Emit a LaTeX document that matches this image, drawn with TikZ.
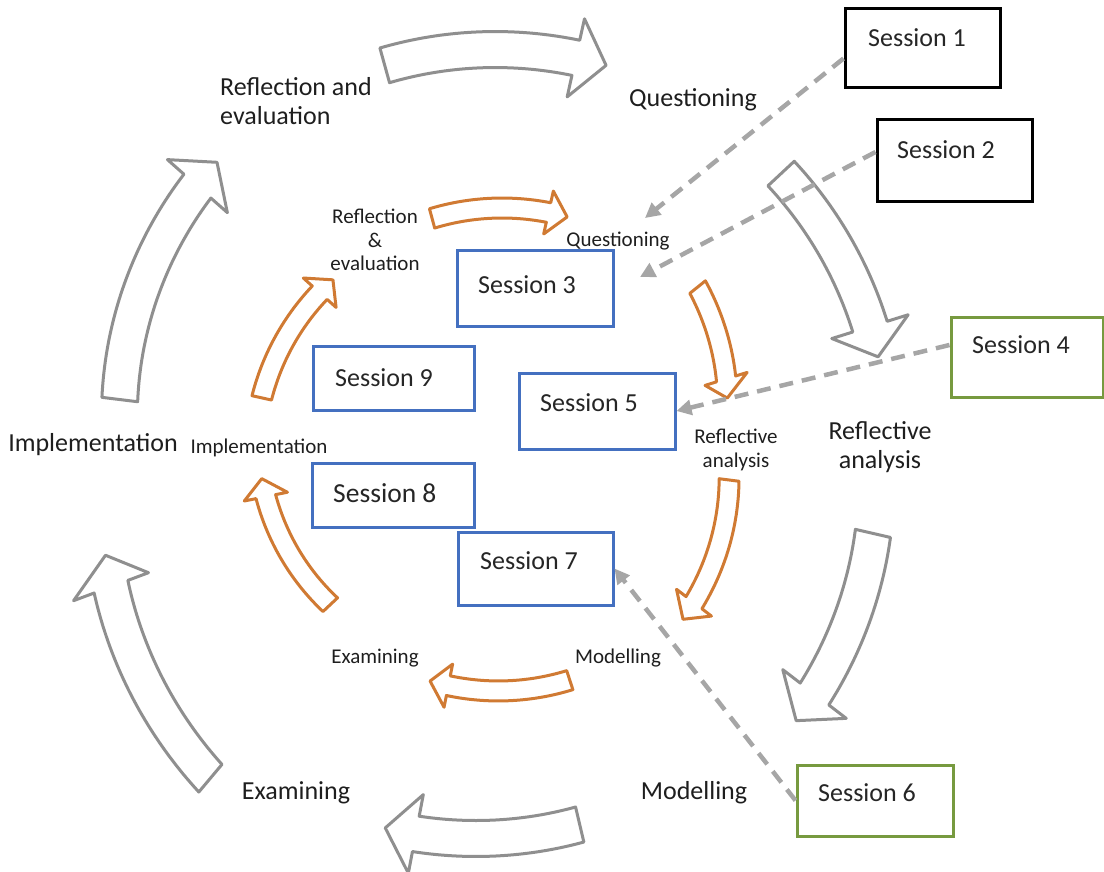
\documentclass[tikz,border=0pt]{standalone}
\usepackage{fontspec}
\setmainfont{Carlito}
\usetikzlibrary{arrows.meta}

\definecolor{cyclegray}{HTML}{8F8F8F}
\definecolor{cycleorange}{HTML}{D07A33}
\definecolor{sessblue}{HTML}{4470C0}
\definecolor{sessgreen}{HTML}{779A3F}
\definecolor{linkgray}{HTML}{A6A6A6}
\definecolor{inktext}{HTML}{1E1E1E}

% Curved block arrow along a (slightly spiralling) arc, drawn clockwise.
% #1 style, #2 tail angle, #3 tip angle, #4 tail radius, #5 tip radius,
% #6 band half-width, #7 head half-width, #8 head length in degrees
\newcommand\bandarrow[8]{%
  \pgfmathsetmacro\headbase{#3+#8}%
  \pgfmathsetmacro\headrad{#4+(\headbase-(#2))/((#3)-(#2))*((#5)-(#4))}%
  \draw[#1]
    plot[domain=#2:\headbase,samples=40] (\x:{#4+(\x-(#2))/((#3)-(#2))*((#5)-(#4))+#6})
    -- (\headbase:{\headrad+#7}) -- (#3:#5) -- (\headbase:{\headrad-#7})
    -- plot[domain=\headbase:#2,samples=40] (\x:{#4+(\x-(#2))/((#3)-(#2))*((#5)-(#4))-#6})
    -- cycle;
}

\begin{document}
\begin{tikzpicture}[x=1pt,y=1pt,
  outerarrow/.style={draw=cyclegray,line width=3pt,line join=round,fill=white},
  innerarrow/.style={draw=cycleorange,line width=3pt,line join=round,fill=white},
  bigtext/.style={font=\fontsize{26}{29}\selectfont,text=inktext,inner sep=0pt},
  smalltext/.style={font=\fontsize{21}{23.5}\selectfont,text=inktext,inner sep=0pt},
  sessbox/.style={draw=#1,line width=3pt,fill=white,inner sep=0pt},
  sesstext/.style={font=\fontsize{26}{30}\selectfont,text=black!85,inner sep=0pt,anchor=west},
  link/.style={draw=linkgray,line width=4.5pt,dash pattern=on 14pt off 9pt,
    -{Triangle[length=15pt,width=15pt]}}
]
\useasboundingbox (0,0) rectangle (1104,-872);

% outer cycle
\begin{scope}[shift={(490,-445)}]
  \bandarrow{outerarrow}{105.5}{73}{394}{397}{18}{40}{4.5}
  \bandarrow{outerarrow}{43}{12.8}{398}{398}{18}{40}{4.5}
  \bandarrow{outerarrow}{-13}{-42}{393}{412}{18}{40}{4.5}
  \bandarrow{outerarrow}{-76.7}{-105.3}{390}{397}{18}{40}{4.5}
  \bandarrow{outerarrow}{-130}{-164}{435}{400}{18}{40}{4.5}
  \bandarrow{outerarrow}{173}{134}{373}{393}{18}{40}{4.5}
\end{scope}

% inner cycle
\begin{scope}[shift={(495,-450)}]
  \bandarrow{innerarrow}{105.2}{72.8}{240}{244}{10}{22}{4.5}
  \bandarrow{innerarrow}{38.8}{12.6}{260}{238}{10}{22}{4.5}
  \bandarrow{innerarrow}{-7.3}{-42}{236}{253}{10}{22}{4.5}
  \bandarrow{innerarrow}{-72}{-105.7}{242}{240}{10}{22}{4.5}
  \bandarrow{innerarrow}{-136.8}{-173}{226}{235}{10}{22}{4.5}
  \bandarrow{innerarrow}{167.4}{133.6}{239}{235}{10}{22}{4.5}
\end{scope}

% outer stage labels
\node[bigtext,anchor=west,align=left] (lrefl) at (220,-101) {Reflection and\\evaluation};
\node[bigtext] (lquest) at (693,-100) {Questioning};
\node[bigtext,align=center] (lanal) at (880,-447) {Reflective\\analysis};
\node[bigtext] (lmodel) at (694,-793) {Modelling};
\node[bigtext] (lexam) at (296,-793) {Examining};
\node[bigtext] (limpl) at (93,-445) {Implementation};

% inner stage labels
\node[smalltext,align=center] (irefl) at (375,-240) {Reflection\\\&\\evaluation};
\node[smalltext] (iquest) at (618,-241) {Questioning};
\node[smalltext,align=center] (ianal) at (736,-450) {Reflective\\analysis};
\node[smalltext] (imodel) at (618,-658) {Modelling};
\node[smalltext] (iexam) at (375,-658) {Examining};
\node[smalltext] (iimpl) at (259,-448) {Implementation};

% session boxes
\node[sessbox=black,minimum width=155pt,minimum height=79pt] (s1) at (922.5,-48.5) {};
\node[sessbox=black,minimum width=155pt,minimum height=82pt] (s2) at (954.5,-161) {};
\node[sessbox=sessgreen,minimum width=152pt,minimum height=80pt] (s4) at (1027,-357) {};
\node[sessbox=sessgreen,minimum width=156pt,minimum height=71pt] (s6) at (875,-800.5) {};
\node[sessbox=sessblue,minimum width=156pt,minimum height=76pt] (s3) at (535,-288) {};
\node[sessbox=sessblue,minimum width=161pt,minimum height=64pt] (s9) at (393.5,-378) {};
\node[sessbox=sessblue,minimum width=156pt,minimum height=76pt] (s5) at (597,-411) {};
\node[sessbox=sessblue,minimum width=162pt,minimum height=64pt] (s8) at (393,-495) {};
\node[sessbox=sessblue,minimum width=155pt,minimum height=73pt] (s7) at (535.5,-568.5) {};

\node[sesstext] (t1) at (868,-38) {Session 1};
\node[sesstext] (t2) at (897,-150) {Session 2};
\node[sesstext] (t4) at (972,-345) {Session 4};
\node[sesstext] (t6) at (818,-793) {Session 6};
\node[sesstext] (t3) at (478,-285) {Session 3};
\node[sesstext] (t9) at (335,-378) {Session 9};
\node[sesstext] (t5) at (540,-403) {Session 5};
\node[sesstext,font=\fontsize{27.5}{30}\selectfont] (t8) at (333,-493) {Session 8};
\node[sesstext] (t7) at (480,-561) {Session 7};

% dashed links from the sessions into the cycles
\coordinate (q1) at (645,-218);
\coordinate (q2) at (640,-277);
\draw[link] ([yshift=-10pt]s1.west) -- (q1);
\draw[link] ([yshift=9pt]s2.west) -- (q2);
\draw[link] ([yshift=12pt]s4.west) -- (s5.east);
\draw[link] (s6.west) -- (s7.east);
\end{tikzpicture}
\end{document}
